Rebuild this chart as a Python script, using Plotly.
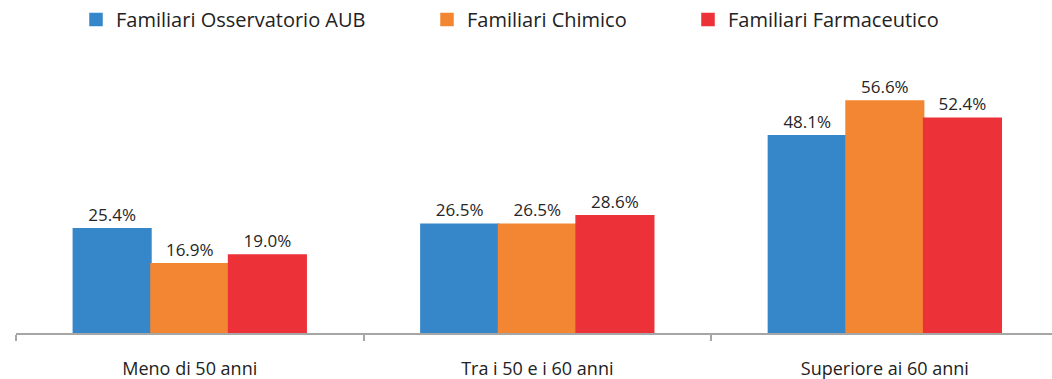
import plotly.graph_objects as go

categories = ["Meno di 50 anni", "Tra i 50 e i 60 anni", "Superiore ai 60 anni"]
series_names = ["Familiari Osservatorio AUB", "Familiari Chimico", "Familiari Farmaceutico"]
aub = [25.4, 26.5, 48.1]
chimico = [16.9, 26.5, 56.6]
farmaceutico = [19.0, 28.6, 52.4]

colors = ["#3587c9", "#f38632", "#ec3238"]
font_family = "Open Sans, sans-serif"
W, H = 1052, 379

# each series has its own legend box so the entries can be spaced freely
legend_ids = ["legend", "legend2", "legend3"]
legend_left_px = [76, 427, 688]

fig = go.Figure()
for name, vals, col, lid in zip(series_names, [aub, chimico, farmaceutico], colors, legend_ids):
    fig.add_trace(go.Bar(
        x=categories, y=vals, name=name, legend=lid, showlegend=True,
        marker=dict(color=col, line=dict(width=1.5, color=col)),
        text=[f"{v:.1f}%" for v in vals],
        textposition="outside",
        textfont=dict(size=17, color="#262626", family=font_family),
        cliponaxis=False,
    ))

legend_style = dict(
    orientation="h", xref="container", yref="container",
    y=1.0, yanchor="top", xanchor="left",
    font=dict(size=20, color="#222", family=font_family),
    bgcolor="rgba(0,0,0,0)",
    visible=True,
)
layout_legends = {
    lid: dict(legend_style, x=px / W) for lid, px in zip(legend_ids, legend_left_px)
}

fig.update_layout(
    width=W, height=H,
    showlegend=True,
    margin=dict(l=16, r=0, t=46, b=46),
    paper_bgcolor="white", plot_bgcolor="white",
    barmode="group", bargap=0.33, bargroupgap=0,
    font=dict(family=font_family, color="#222"),
    xaxis=dict(
        type="category", range=[-0.5, 2.481],
        showline=True, linecolor="#a6a6a6", linewidth=2,
        ticks="outside", tickson="boundaries", ticklen=6,
        tickcolor="#a6a6a6", tickwidth=2,
        tickfont=dict(size=18, color="#222", family=font_family),
        ticklabelstandoff=18,
        showgrid=False,
    ),
    yaxis=dict(range=[0, 70], visible=False, showgrid=False, zeroline=False),
    **layout_legends,
)

fig.write_html("out.html")
